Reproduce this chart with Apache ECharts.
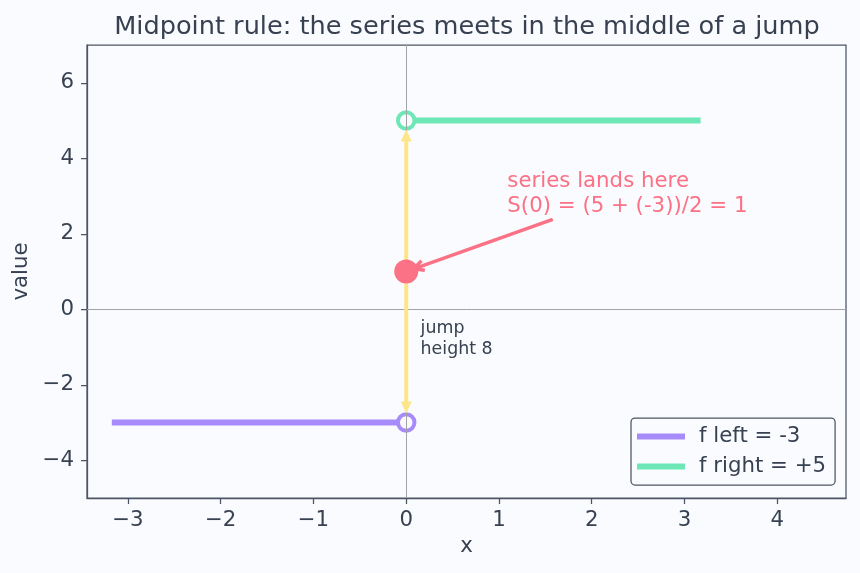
<!DOCTYPE html>
<html><head><meta charset="utf-8">
<script src="https://cdn.jsdelivr.net/npm/echarts@6/dist/echarts.min.js"></script>
<style>html,body{margin:0;padding:0;background:#fafbfe}#c{width:860px;height:573px}</style>
</head><body><div id="c"></div>
<script>
const titleText = 'Midpoint rule: the series meets in the middle of a jump';
const xTicks = [-3, -2, -1, 0, 1, 2, 3, 4];
const yTicks = [-4, -2, 0, 2, 4, 6];
const xRange = [-3.4416, 4.7416];
const yRange = [-5, 7];
const leftName = 'f left = -3';
const rightName = 'f right = +5';
const leftLine = [[-3.1416, -3], [0, -3]];
const rightLine = [[0, 5], [3.1416, 5]];
const openLeft = [[0, -3]];
const openRight = [[0, 5]];
const midpoint = [[0, 1]];
const jumpArrow = [[0, -3, 0, 5]];
const noteArrow = [[1.58, 2.38, 0, 1]];
const noteLabel = [[1.09, 2.38]];
const noteText = 'series lands here\nS(0) = (5 + (-3))/2 = 1';
const jumpLabel = [[0.155, -0.78]];
const jumpText = 'jump\nheight 8';

const FONT = 'DejaVu Sans';
const TXT = '#374151';
const AX = '#4b5563';
const BG = '#fafbfe';
const PURPLE = '#a78bfa', GREEN = '#6ee7b7', YELLOW = '#fde68a', ROSE = '#fb7185';
const FS = 21.3;

const fmt = v => (v < 0 ? '\u2212' + Math.abs(v) : String(v));

function arrowItem(opts) {
  return function (params, api) {
    const a = api.coord([api.value(0), api.value(1)]);
    const b = api.coord([api.value(2), api.value(3)]);
    const dx = b[0] - a[0], dy = b[1] - a[1];
    const L = Math.sqrt(dx * dx + dy * dy);
    const ux = dx / L, uy = dy / L, px = -uy, py = ux;
    const s0 = opts.shrinkA, s1 = opts.shrinkB;
    const p1 = [a[0] + ux * s0, a[1] + uy * s0];
    const p2 = [b[0] - ux * s1, b[1] - uy * s1];
    const hl = opts.hl, hw = opts.hw;
    const children = [];
    const lineStart = opts.both && opts.filled ? [p1[0] + ux * hl * 0.8, p1[1] + uy * hl * 0.8] : p1;
    const lineEnd = opts.filled ? [p2[0] - ux * hl * 0.8, p2[1] - uy * hl * 0.8] : p2;
    children.push({type: 'line', shape: {x1: lineStart[0], y1: lineStart[1], x2: lineEnd[0], y2: lineEnd[1]},
      style: {stroke: opts.color, lineWidth: opts.lw}});
    const head = (tip, dirx, diry) => {
      const bx = tip[0] - dirx * hl, by = tip[1] - diry * hl;
      const l = [bx + px * hw, by + py * hw], r = [bx - px * hw, by - py * hw];
      if (opts.filled) {
        children.push({type: 'polygon', shape: {points: [tip, l, r]}, style: {fill: opts.color}});
      } else {
        children.push({type: 'polyline', shape: {points: [l, tip, r]}, style: {stroke: opts.color, lineWidth: opts.lw, fill: null}});
      }
    };
    head(p2, ux, uy);
    if (opts.both) head(p1, -ux, -uy);
    return {type: 'group', children};
  };
}

function textItem(text, color, size, lh, va) {
  return function (params, api) {
    const p = api.coord([api.value(0), api.value(1)]);
    return {type: 'text', x: p[0], y: p[1], style: {text, fill: color, fontSize: size, fontFamily: FONT,
      lineHeight: lh, align: 'left', verticalAlign: va}};
  };
}

const chart = echarts.init(document.getElementById('c'), null, {renderer: 'canvas'});
chart.setOption({
  backgroundColor: BG,
  animation: false,
  textStyle: {fontFamily: FONT},
  title: {text: titleText, left: 462, textAlign: 'center', top: 9,
    textStyle: {fontSize: 25.6, fontWeight: 'normal', color: TXT, fontFamily: FONT}},
  grid: {left: 87, right: 14, top: 45, bottom: 75, show: true, borderColor: AX, borderWidth: 1.25, backgroundColor: 'transparent'},
  legend: {
    data: [leftName, rightName], orient: 'vertical', left: 631, top: 418,
    icon: 'rect', itemWidth: 48, itemHeight: 6, itemGap: 9,
    padding: [8, 9, 8, 6], borderColor: AX, borderWidth: 1.25, borderRadius: 4, backgroundColor: BG,
    textStyle: {fontSize: FS, color: TXT, fontFamily: FONT, padding: [0, 0, 0, 9]}
  },
  xAxis: {
    type: 'value', min: xRange[0], max: xRange[1],
    name: 'x', nameLocation: 'middle', nameGap: 38,
    nameTextStyle: {fontSize: FS, color: TXT, fontFamily: FONT},
    axisLine: {show: true, onZero: false, lineStyle: {color: AX, width: 1.25}},
    axisTick: {show: true, customValues: xTicks, length: 6, lineStyle: {color: AX, width: 1.25}},
    axisLabel: {customValues: xTicks, formatter: fmt, fontSize: FS, color: TXT, margin: 12, fontFamily: FONT},
    splitLine: {show: false}
  },
  yAxis: {
    type: 'value', min: yRange[0], max: yRange[1],
    name: 'value', nameLocation: 'middle', nameGap: 54, nameRotate: 90,
    nameTextStyle: {fontSize: FS, color: TXT, fontFamily: FONT},
    axisLine: {show: true, onZero: false, lineStyle: {color: AX, width: 1.25}},
    axisTick: {show: true, customValues: yTicks, length: 6, lineStyle: {color: AX, width: 1.25}},
    axisLabel: {customValues: yTicks, formatter: fmt, fontSize: FS, color: TXT, margin: 13, fontFamily: FONT},
    splitLine: {show: false}
  },
  series: [
    {name: leftName, type: 'line', data: leftLine, showSymbol: false, z: 2,
      lineStyle: {color: PURPLE, width: 6, cap: 'square'}, itemStyle: {color: PURPLE}},
    {name: rightName, type: 'line', data: rightLine, showSymbol: false, z: 2,
      lineStyle: {color: GREEN, width: 6, cap: 'square'}, itemStyle: {color: GREEN}},
    {name: 'openL', type: 'scatter', data: openLeft, symbol: 'circle', symbolSize: 16.5, z: 3,
      itemStyle: {color: BG, borderColor: PURPLE, borderWidth: 4, opacity: 1}},
    {name: 'openR', type: 'scatter', data: openRight, symbol: 'circle', symbolSize: 16.5, z: 3,
      itemStyle: {color: BG, borderColor: GREEN, borderWidth: 4, opacity: 1}},
    {name: 'zero', type: 'line', data: openLeft, showSymbol: false, z: 4, lineStyle: {opacity: 0},
      markLine: {silent: true, symbol: 'none', label: {show: false},
        lineStyle: {color: '#a3a3a3', width: 1, type: 'solid'},
        data: [{xAxis: 0}, {yAxis: 0}]}},
    {name: 'jump', type: 'custom', data: jumpArrow, z: 5, encode: {x: [0, 2], y: [1, 3]},
      renderItem: arrowItem({color: YELLOW, lw: 4, shrinkA: 9, shrinkB: 9, hl: 12, hw: 5.5, filled: true, both: true})},
    {name: 'mid', type: 'scatter', data: midpoint, symbol: 'circle', symbolSize: 24, z: 6,
      itemStyle: {color: ROSE, opacity: 1}},
    {name: 'note', type: 'custom', data: noteArrow, z: 7, encode: {x: [0, 2], y: [1, 3]},
      renderItem: arrowItem({color: ROSE, lw: 3.5, shrinkA: 0, shrinkB: 8, hl: 10, hw: 5, filled: false, both: false})},
    {name: 'noteText', type: 'custom', data: noteLabel, z: 8,
      renderItem: textItem(noteText, ROSE, FS, 25.5, 'bottom')},
    {name: 'jumpText', type: 'custom', data: jumpLabel, z: 8,
      renderItem: textItem(jumpText, TXT, 17.4, 21, 'middle')}
  ]
});
</script>
</body></html>
